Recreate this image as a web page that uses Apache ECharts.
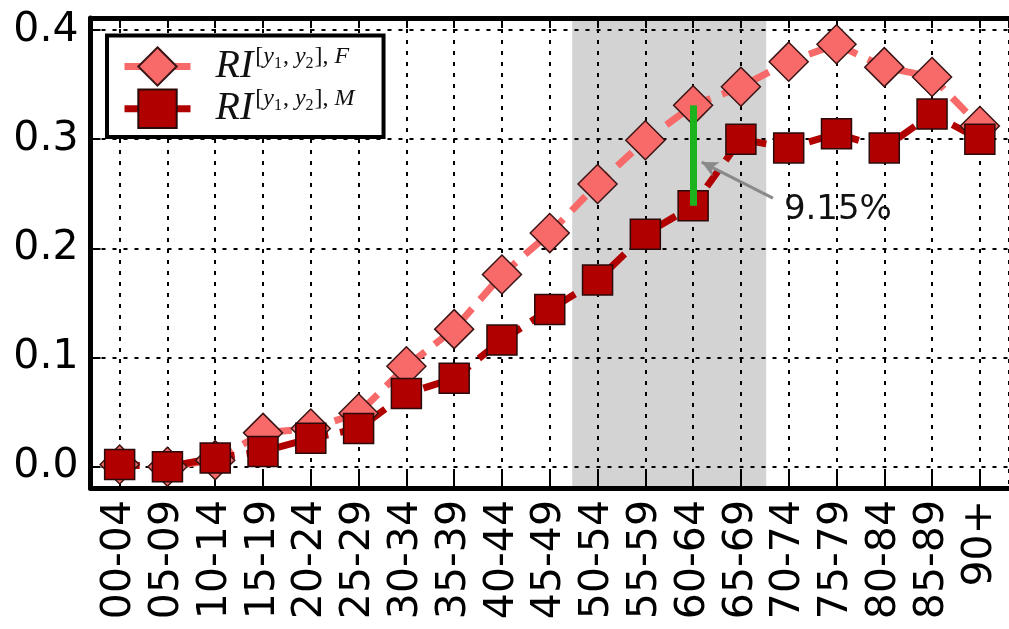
<!DOCTYPE html>
<html>
<head>
<meta charset="utf-8">
<script src="https://cdn.jsdelivr.net/npm/echarts@6/dist/echarts.min.js"></script>
<style>
  html, body { margin: 0; padding: 0; background: #fff; }
  #chart { width: 1009px; height: 629px; }
</style>
</head>
<body>
<div id="chart"></div>
<script>
// age groups on the x axis
const ageGroups = ['00-04', '05-09', '10-14', '15-19', '20-24', '25-29', '30-34', '35-39', '40-44',
    '45-49', '50-54', '55-59', '60-64', '65-69', '70-74', '75-79', '80-84', '85-89', '90+'];
// RI values
const riFemale = [0.002, 0.000, 0.006, 0.031, 0.035, 0.049, 0.092, 0.126, 0.176,
    0.214, 0.259, 0.299, 0.331, 0.348, 0.371, 0.387, 0.366, 0.357, 0.312];
const riMale = [0.002, 0.000, 0.008, 0.014, 0.026, 0.035, 0.067, 0.081, 0.116,
    0.144, 0.171, 0.213, 0.239, 0.300, 0.292, 0.305, 0.292, 0.323, 0.300];
const seriesNames = ['F', 'M'];
// shaded age band (in category units) and the gap annotation
const bandRange = [9.47, 13.53];
const gapIndex = 12;
const gapLabel = '9.15%';

const FEMALE_COLOR = '#F86A6A';
const MALE_COLOR = '#B00000';
const GRID_DASH = [4, 7];

function legendText(name) {
    return '{ri|RI}{sp|[}{spi|y}{sb|1}{sp|, }{spi|y}{sb|2}{sp|], }{spi|' + name + '}';
}

var myChart = echarts.init(document.getElementById('chart'));

const xCommon = {
    type: 'value',
    min: -0.61,
    max: 18.61,
    minInterval: 1,
    maxInterval: 1,
    z: 2
};

option = {
    animation: false,
    grid: {
        left: 90.5,
        top: 18,
        width: 928,
        height: 470
    },
    legend: {
        left: 107,
        top: 35.5,
        orient: 'vertical',
        padding: [9, 29, 8, 14],
        itemWidth: 66,
        itemHeight: 48,
        itemGap: 0,
        backgroundColor: '#fff',
        borderColor: '#000',
        borderWidth: 4,
        lineStyle: { type: 'solid', width: 7 },
        data: seriesNames,
        formatter: legendText,
        textStyle: {
            rich: {
                ri: { fontFamily: 'Liberation Serif', fontStyle: 'italic', fontSize: 40, lineHeight: 44, color: '#111', padding: [0, 2, 0, 20] },
                sp: { fontFamily: 'Liberation Serif', fontSize: 24, lineHeight: 24, verticalAlign: 'top', color: '#111' },
                spi: { fontFamily: 'Liberation Serif', fontStyle: 'italic', fontSize: 24, lineHeight: 24, verticalAlign: 'top', color: '#111' },
                sb: { fontFamily: 'Liberation Serif', fontSize: 16, lineHeight: 16, verticalAlign: 'top', padding: [11, 1, 0, 0], color: '#111' }
            }
        }
    },
    xAxis: [
        Object.assign({}, xCommon, {
            position: 'bottom',
            axisLine: { onZero: false, lineStyle: { color: '#000', width: 5 } },
            axisTick: { inside: true, length: 15, lineStyle: { color: '#000', width: 2 } },
            axisLabel: {
                rotate: 90,
                margin: 12,
                fontSize: 41,
                fontFamily: 'DejaVu Sans',
                color: '#000',
                showMinLabel: false,
                showMaxLabel: false,
                formatter: function (v) {
                    return Number.isInteger(v) ? ageGroups[v] : '';
                }
            },
            splitLine: { show: true, lineStyle: { color: '#000', width: 2, type: GRID_DASH } }
        }),
        Object.assign({}, xCommon, {
            position: 'top',
            axisLine: { onZero: false, lineStyle: { color: '#000', width: 5 } },
            axisTick: { inside: true, length: 10, lineStyle: { color: '#000', width: 2 } },
            axisLabel: { show: false },
            splitLine: { show: false }
        })
    ],
    yAxis: {
        type: 'value',
        min: -0.0195,
        max: 0.411,
        minInterval: 0.1,
        maxInterval: 0.1,
        z: 2,
        axisLine: { onZero: false, lineStyle: { color: '#000', width: 5 } },
        axisTick: { inside: true, length: 10, lineStyle: { color: '#000', width: 2 } },
        axisLabel: {
            margin: 12,
            fontSize: 41,
            fontFamily: 'DejaVu Sans',
            color: '#000',
            showMinLabel: false,
            showMaxLabel: false,
            formatter: function (v) { return v.toFixed(1); }
        },
        splitLine: { show: true, lineStyle: { color: '#000', width: 2, type: GRID_DASH } }
    },
    series: [
        {
            // shaded band, below the grid lines
            name: 'band',
            type: 'line',
            data: [],
            z: 0,
            silent: true,
            markArea: {
                silent: true,
                itemStyle: { color: '#D3D3D3' },
                data: [[{ xAxis: bandRange[0] }, { xAxis: bandRange[1] }]]
            }
        },
        {
            // green gap bar between the two curves
            name: 'gap',
            type: 'line',
            data: [],
            z: 1,
            silent: true,
            markLine: {
                silent: true,
                symbol: ['none', 'none'],
                label: { show: false },
                lineStyle: { color: '#1DB31D', width: 7, type: 'solid' },
                data: [[{ coord: [gapIndex, riFemale[gapIndex]] }, { coord: [gapIndex, riMale[gapIndex]] }]]
            }
        },
        {
            name: 'F',
            type: 'line',
            z: 3,
            data: ageGroups.map((g, i) => [i, riFemale[i]]),
            symbol: 'diamond',
            symbolSize: 39,
            showAllSymbol: true,
            lineStyle: { color: FEMALE_COLOR, width: 7, type: [20, 12] },
            itemStyle: { color: FEMALE_COLOR, borderColor: '#3A1414', borderWidth: 1.5 }
        },
        {
            name: 'M',
            type: 'line',
            z: 3,
            data: ageGroups.map((g, i) => [i, riMale[i]]),
            symbol: 'rect',
            symbolSize: 30,
            showAllSymbol: true,
            lineStyle: { color: MALE_COLOR, width: 7, type: [20, 12] },
            itemStyle: { color: MALE_COLOR, borderColor: '#2A0A0A', borderWidth: 1.5 }
        },
        {
            // arrow + text annotation
            name: 'note',
            type: 'line',
            data: [],
            z: 4,
            silent: true,
            markLine: {
                silent: true,
                symbol: ['none', 'arrow'],
                symbolSize: [12, 16],
                label: { show: false },
                lineStyle: { color: '#8A8A8A', width: 3, type: 'solid', curveness: -0.15 },
                data: [[{ coord: [13.67, 0.246] }, { coord: [12.18, 0.279] }]]
            },
            markPoint: {
                silent: true,
                symbol: 'circle',
                symbolSize: 0,
                label: {
                    show: true,
                    position: 'right',
                    distance: 0,
                    formatter: gapLabel,
                    fontSize: 34,
                    fontFamily: 'DejaVu Sans',
                    color: '#111'
                },
                data: [{ coord: [13.9, 0.235] }]
            }
        }
    ]
};

myChart.setOption(option);
</script>
</body>
</html>
